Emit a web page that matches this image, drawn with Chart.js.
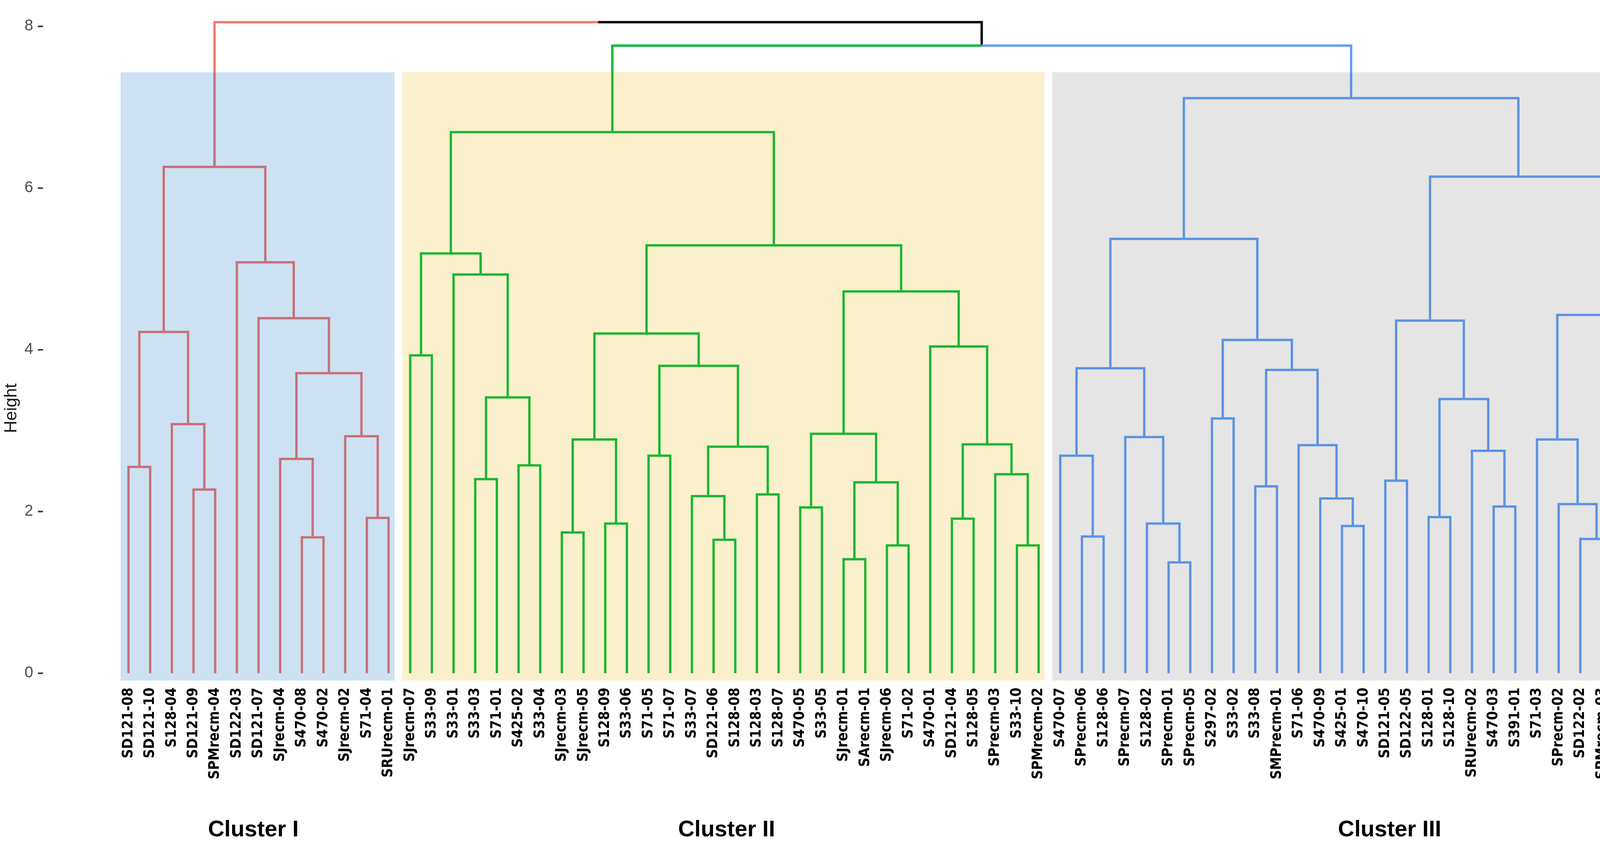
<!DOCTYPE html>
<html>
<head>
<meta charset="utf-8">
<title>Dendrogram</title>
<script src="https://cdn.jsdelivr.net/npm/chart.js@4.4.1/dist/chart.umd.min.js"></script>
<style>
  html, body { margin: 0; padding: 0; background: #ffffff; }
  #wrap { width: 4328px; height: 2158px; position: relative; }
</style>
</head>
<body>
<div id="wrap"><canvas id="dendro"></canvas></div>
<script>
// leaf order, left to right
const leafLabels = [
  'SD121-08', 'SD121-10', 'S128-04', 'SD121-09', 'SPMrecm-04', 'SD122-03', 'SD121-07', 'SJrecm-04',
  'S470-08', 'S470-02', 'SJrecm-02', 'S71-04', 'SRUrecm-01',
  'SJrecm-07', 'S33-09', 'S33-01', 'S33-03', 'S71-01', 'S425-02', 'S33-04', 'SJrecm-03', 'SJrecm-05',
  'S128-09', 'S33-06', 'S71-05', 'S71-07', 'S33-07', 'SD121-06', 'S128-08', 'S128-03', 'S128-07',
  'S470-05', 'S33-05', 'SJrecm-01', 'SArecm-01', 'SJrecm-06', 'S71-02', 'S470-01', 'SD121-04',
  'S128-05', 'SPrecm-03', 'S33-10', 'SPMrecm-02',
  'S470-07', 'SPrecm-06', 'S128-06', 'SPrecm-07', 'S128-02', 'SPrecm-01', 'SPrecm-05', 'S297-02',
  'S33-02', 'S33-08', 'SMPrecm-01', 'S71-06', 'S470-09', 'S425-01', 'S470-10', 'SD121-05', 'SD122-05',
  'S128-01', 'S128-10', 'SRUrecm-02', 'S470-03', 'S391-01', 'S71-03', 'SPrecm-02', 'SD122-02',
  'SPMrecm-03', 'SD122-04', 'SPrecm-04', 'S470-04'
];

// consecutive leaves per cluster
const clusterSizes = [13, 30, 29];
const clusterNames = ['Cluster I', 'Cluster II', 'Cluster III'];
const clusterLabelX = [6.76, 28.6, 59.2];

// hclust style merges: negative = leaf number, positive = earlier merge row (1-based)
const mergeLeft = [
  -1, -4, -3, 1, -9, -8, -12, -11, 6, -7, -6, 4,
  -14, -17, -19, 14, -16, 13, -21, -23, 19, -25, -28, -27, -30, 24, 22, 21,
  -32, -34, -36, 30, 29, -39, -42, -41, 34, -38, 33, 28, 18,
  -45, -44, -49, -48, -47, 43, -51, -53, -57, -56, -55, 49, 48, 47,
  -59, -61, -64, -63, 57, 56, -69, -68, -67, -66, -71, 65, 61, 55,
  41, 12
];
const mergeRight = [
  -2, -5, 2, 3, -10, 5, -13, 7, 8, 9, 10, 11,
  -15, -18, -20, 15, 16, 17, -22, -24, 20, -26, -29, 23, -31, 25, 26, 27,
  -33, -35, -37, 31, 32, -40, -43, 35, 36, 37, 38, 39, 40,
  -46, 42, -50, 44, 45, 46, -52, -54, -58, 50, 51, 52, 53, 54,
  -60, -62, -65, 58, 59, 60, -70, 62, 63, 64, -72, 66, 67, 68,
  69, 70
];
const mergeHeight = [
  2.55, 2.27, 3.08, 4.22, 1.68, 2.65, 1.92, 2.93, 3.71, 4.39, 5.08, 6.26,
  3.93, 2.40, 2.57, 3.41, 4.93, 5.19, 1.74, 1.85, 2.89, 2.69, 1.65, 2.19, 2.21, 2.80, 3.80, 4.20,
  2.05, 1.41, 1.58, 2.36, 2.96, 1.91, 1.58, 2.46, 2.83, 4.04, 4.72, 5.29, 6.69,
  1.69, 2.69, 1.37, 1.85, 2.92, 3.77, 3.15, 2.31, 1.82, 2.16, 2.82, 3.75, 4.12, 5.37,
  2.38, 1.93, 2.06, 2.75, 3.39, 4.36, 0.95, 1.66, 2.09, 2.89, 2.92, 4.43, 6.14, 7.11,
  7.76, 8.05
];

const yTickValues = [0, 2, 4, 6, 8];

// look
const RECT_TOP = 7.43;
const RECT_BOTTOM = -0.09;
const RECT_PAD_L = 0.37;
const RECT_PAD_R = 0.28;
const rectColors = ['#CCE1F2', '#FAF0CC', '#E5E5E5'];
const lineOuter = ['#F8766D', '#00BA38', '#619CFF'];
const lineInner = ['#C87079', '#1EB534', '#5C93E4'];
const LINE_W = 6;
const LABEL_FONT = '"DejaVu Sans Condensed", "DejaVu Sans", sans-serif';

// cluster of each leaf
const leafCluster = [];
clusterSizes.forEach((n, c) => { for (let i = 0; i < n; i++) leafCluster.push(c); });

// walk the merges and collect the branch segments by colour
const nodeX = [], nodeH = [], nodeC = [];
const outerPts = [[], [], []], innerPts = [[], [], []], blackPts = [];

function info(ref) {
  if (ref < 0) return { x: -ref, h: 0, c: leafCluster[-ref - 1] };
  return { x: nodeX[ref - 1], h: nodeH[ref - 1], c: nodeC[ref - 1] };
}
function pushPath(list, pts) {
  pts.forEach(p => list.push({ x: p[0], y: p[1] }));
  list.push({ x: pts[pts.length - 1][0], y: null });
}
function addEdge(xp, hp, ch) {
  if (ch.c < 0) { pushPath(blackPts, [[xp, hp], [ch.x, hp], [ch.x, ch.h]]); return; }
  if (hp <= RECT_TOP) {
    pushPath(innerPts[ch.c], [[xp, hp], [ch.x, hp], [ch.x, ch.h]]);
  } else if (ch.h >= RECT_TOP) {
    pushPath(outerPts[ch.c], [[xp, hp], [ch.x, hp], [ch.x, ch.h]]);
  } else {
    pushPath(outerPts[ch.c], [[xp, hp], [ch.x, hp], [ch.x, RECT_TOP]]);
    pushPath(innerPts[ch.c], [[ch.x, RECT_TOP], [ch.x, ch.h]]);
  }
}
mergeHeight.forEach((h, i) => {
  const a = info(mergeLeft[i]);
  const b = info(mergeRight[i]);
  const x = (a.x + b.x) / 2;
  nodeX.push(x); nodeH.push(h); nodeC.push(a.c === b.c ? a.c : -1);
  addEdge(x, h, a);
  addEdge(x, h, b);
});

const datasets = [];
function lineSet(pts, color) {
  return { data: pts, borderColor: color, borderWidth: LINE_W, pointRadius: 0, fill: false,
           spanGaps: false, borderCapStyle: 'butt', borderJoinStyle: 'miter' };
}
for (let c = 0; c < 3; c++) datasets.push(lineSet(innerPts[c], lineInner[c]));
for (let c = 0; c < 3; c++) datasets.push(lineSet(outerPts[c], lineOuter[c]));
datasets.push(lineSet(blackPts, '#000000'));

// shaded cluster boxes (fills are drawn under the branches)
let first = 1;
clusterSizes.forEach((n, c) => {
  const last = first + n - 1;
  datasets.push({
    data: [{ x: first - RECT_PAD_L, y: RECT_TOP }, { x: last + RECT_PAD_R, y: RECT_TOP }],
    borderWidth: 0, pointRadius: 0, backgroundColor: rectColors[c],
    fill: { value: RECT_BOTTOM }
  });
  first = last + 1;
});

const overlayText = {
  id: 'overlayText',
  afterDraw(chart) {
    const g = chart.ctx;
    const xs = chart.scales.x;
    g.save();
    g.fillStyle = '#000000';
    g.textAlign = 'center';
    g.textBaseline = 'middle';
    g.font = 'bold 58px "Liberation Sans", Arial, sans-serif';
    clusterNames.forEach((name, i) => {
      g.fillText(name, xs.getPixelForValue(clusterLabelX[i]), 2125);
    });
    g.translate(30, 1045);
    g.rotate(-Math.PI / 2);
    g.fillStyle = '#1A1A1A';
    g.font = '44px "Liberation Sans", Arial, sans-serif';
    g.fillText('Height', 0, 0);
    g.restore();
  }
};

new Chart(document.getElementById('dendro').getContext('2d'), {
  type: 'line',
  data: { datasets: datasets },
  options: {
    responsive: true,
    maintainAspectRatio: false,
    animation: false,
    devicePixelRatio: 1,
    layout: { padding: { top: 0, right: 13, bottom: 0, left: 0 } },
    plugins: { legend: { display: false }, tooltip: { enabled: false } },
    elements: { line: { tension: 0 }, point: { radius: 0 } },
    scales: {
      x: {
        type: 'linear',
        min: -2.9475,
        max: 72.502,
        grid: { display: false, drawTicks: false },
        border: { display: false },
        afterFit: s => { s.height = 414; },
        afterBuildTicks: s => { s.ticks = leafLabels.map((_, i) => ({ value: i + 1 })); },
        ticks: {
          autoSkip: false, minRotation: 90, maxRotation: 90, padding: 16, color: '#000000',
          font: { family: LABEL_FONT, weight: 'bold', size: 37 },
          callback: v => leafLabels[Math.round(v) - 1]
        }
      },
      y: {
        type: 'linear',
        min: -0.1,
        max: 8.15,
        afterFit: s => { s.width = 110; },
        afterBuildTicks: s => { s.ticks = yTickValues.map(v => ({ value: v })); },
        grid: { drawOnChartArea: false, drawTicks: true, tickLength: 13, tickColor: '#333333', tickWidth: 4 },
        border: { display: false },
        ticks: { padding: 12, color: '#4D4D4D', font: { family: '"Liberation Sans", Arial, sans-serif', size: 40 } }
      }
    }
  },
  plugins: [overlayText]
});
</script>
</body>
</html>
